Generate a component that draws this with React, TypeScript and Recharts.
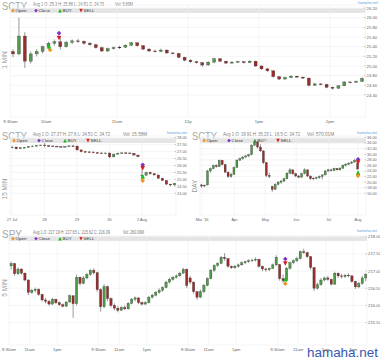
import React from "react";
import {
  ComposedChart,
  Bar,
  XAxis,
  YAxis,
  CartesianGrid,
  ReferenceDot,
} from "recharts";

type OHLC = [number, number, number, number];
type Mark = [string, number, number];

// ---- SCTY 1 min (5 min buckets) ----
const oneMinCandles: OHLC[] = [
  [25.3, 25.35, 25.18, 25.25], [25.25, 26.0, 25.22, 25.62], [25.62, 25.7, 24.96, 25.1],
  [25.1, 25.3, 25.05, 25.25], [25.25, 25.35, 25.2, 25.3], [25.3, 25.42, 25.26, 25.4],
  [25.4, 25.5, 25.35, 25.47], [25.47, 25.55, 25.42, 25.5], [25.5, 25.6, 25.34, 25.4],
  [25.4, 25.52, 25.38, 25.49], [25.49, 25.55, 25.45, 25.52], [25.52, 25.56, 25.48, 25.51],
  [25.51, 25.53, 25.44, 25.47], [25.47, 25.5, 25.42, 25.44], [25.44, 25.46, 25.36, 25.38],
  [25.38, 25.4, 25.29, 25.31], [25.31, 25.38, 25.29, 25.36], [25.36, 25.4, 25.34, 25.38],
  [25.38, 25.42, 25.35, 25.39], [25.39, 25.45, 25.37, 25.43], [25.43, 25.5, 25.41, 25.48],
  [25.48, 25.49, 25.4, 25.42], [25.42, 25.43, 25.33, 25.35], [25.35, 25.37, 25.29, 25.31],
  [25.31, 25.34, 25.28, 25.3], [25.3, 25.36, 25.29, 25.33], [25.33, 25.34, 25.25, 25.27],
  [25.27, 25.29, 25.24, 25.26], [25.26, 25.27, 25.16, 25.18], [25.18, 25.19, 25.1, 25.12],
  [25.12, 25.14, 25.06, 25.09], [25.09, 25.1, 25.05, 25.07], [25.07, 25.08, 24.98, 25.02],
  [25.02, 25.1, 25.01, 25.08], [25.08, 25.17, 25.07, 25.15], [25.15, 25.16, 25.08, 25.1],
  [25.1, 25.11, 25.04, 25.06], [25.06, 25.1, 25.05, 25.08], [25.08, 25.11, 25.06, 25.09],
  [25.09, 25.1, 25.05, 25.07], [25.07, 25.12, 25.06, 25.1], [25.1, 25.11, 24.98, 25.0],
  [25.0, 25.01, 24.92, 24.94], [24.94, 24.96, 24.88, 24.9], [24.9, 24.91, 24.76, 24.78],
  [24.78, 24.79, 24.71, 24.73], [24.73, 24.78, 24.72, 24.76], [24.76, 24.81, 24.75, 24.79],
  [24.79, 24.8, 24.75, 24.77], [24.77, 24.78, 24.73, 24.75], [24.75, 24.76, 24.58, 24.6],
  [24.6, 24.65, 24.59, 24.63], [24.63, 24.64, 24.6, 24.62], [24.62, 24.63, 24.54, 24.56],
  [24.56, 24.57, 24.51, 24.54], [24.54, 24.6, 24.53, 24.59], [24.59, 24.69, 24.58, 24.67],
  [24.67, 24.68, 24.64, 24.66], [24.66, 24.7, 24.65, 24.68], [24.68, 24.77, 24.67, 24.74],
];
const oneMinTicks = [0, 30, 90, 150, 210, 270];
const oneMinLabels = ["9:30am", "10am", "11am", "12p", "1pm", "2pm"];
const oneMinPrices = [24.4, 24.6, 24.8, 25.0, 25.2, 25.4, 25.6, 25.8, 26.0, 26.2];
const oneMinMarks: Mark[] = [
  ["open", 33.4, 25.33], ["buy", 32.5, 25.41], ["close", 41, 25.68], ["sell", 41, 25.58],
];

// ---- SCTY 15 min ----
const fifteenCandles: OHLC[] = [
  [27.3, 27.38, 27.22, 27.33], [27.33, 27.34, 27.15, 27.2], [27.2, 27.3, 27.18, 27.28],
  [27.28, 27.33, 27.24, 27.3], [27.3, 27.4, 27.28, 27.38], [27.38, 27.44, 27.34, 27.4],
  [27.4, 27.46, 27.37, 27.44], [27.44, 27.5, 27.4, 27.47],
  [27.47, 27.62, 27.3, 27.42], [27.42, 27.48, 27.36, 27.4], [27.4, 27.45, 27.34, 27.38],
  [27.38, 27.42, 27.32, 27.36], [27.36, 27.4, 27.31, 27.34], [27.34, 27.4, 27.3, 27.37],
  [27.37, 27.44, 27.34, 27.41], [27.41, 27.46, 27.36, 27.4],
  [27.4, 27.42, 27.08, 27.12], [27.12, 27.15, 26.95, 27.0], [27.0, 27.05, 26.94, 26.98],
  [26.98, 27.02, 26.93, 26.97], [26.97, 27.0, 26.88, 26.92], [26.92, 26.96, 26.86, 26.9],
  [26.9, 26.95, 26.85, 26.88], [26.88, 26.93, 26.84, 26.9],
  [26.9, 26.92, 26.52, 26.62], [26.62, 26.85, 26.6, 26.82], [26.82, 26.92, 26.8, 26.88],
  [26.88, 26.94, 26.84, 26.91], [26.91, 26.95, 26.86, 26.9], [26.9, 26.94, 26.84, 26.87],
  [26.87, 26.89, 26.72, 26.75], [26.75, 26.78, 26.6, 26.64],
  [25.3, 26.1, 24.96, 25.3], [25.3, 25.55, 25.28, 25.5], [25.5, 25.56, 25.34, 25.4],
  [25.4, 25.46, 25.28, 25.32], [25.32, 25.34, 25.05, 25.08], [25.08, 25.12, 24.88, 24.92],
  [24.92, 24.94, 24.62, 24.66], [24.66, 24.68, 24.51, 24.6], [24.6, 24.75, 24.56, 24.72],
];
const fifteenTicks = [0, 8, 16, 24, 32];
const fifteenLabels = ["27 Jul", "28", "29", "30", "2 Aug"];
const fifteenPrices = [24, 24.5, 25, 25.5, 26, 26.5, 27, 27.5, 28];
const fifteenMarks: Mark[] = [
  ["close", 32.2, 26.05], ["sell", 32.2, 25.8], ["buy", 32.2, 25.21], ["open", 32.2, 24.9],
];

// ---- SCTY daily (2 day buckets) ----
const dayCandles: OHLC[] = [
  [19.0, 19.4, 18.0, 18.6], [18.6, 19.2, 18.2, 18.9], [19.0, 24.4, 18.8, 24.0],
  [24.0, 25.2, 23.4, 24.8], [24.8, 26.3, 24.6, 26.0], [26.0, 26.4, 25.2, 25.6],
  [25.6, 28.1, 25.4, 27.8], [27.8, 28.0, 26.0, 26.3], [26.3, 26.5, 23.2, 23.6],
  [23.6, 23.8, 21.5, 22.0], [22.0, 23.4, 21.6, 22.8], [22.8, 25.6, 22.6, 25.3],
  [25.3, 28.2, 25.0, 27.9], [27.9, 28.8, 27.6, 28.4], [28.4, 29.3, 28.0, 29.0],
  [29.0, 29.8, 28.6, 29.4], [29.4, 30.2, 28.9, 29.8], [29.8, 33.6, 29.6, 33.2],
  [33.2, 35.2, 33.0, 34.4], [34.4, 34.8, 32.0, 32.6], [32.6, 33.6, 30.8, 31.2],
  [31.2, 31.4, 26.5, 27.0], [27.0, 27.2, 21.8, 22.4], [22.4, 23.4, 21.4, 22.0],
  [18.4, 18.8, 16.5, 17.4], [17.4, 19.6, 17.2, 19.2], [19.2, 20.4, 18.8, 20.0],
  [20.0, 20.8, 19.4, 20.4], [20.4, 21.6, 20.0, 21.2], [21.2, 23.6, 21.0, 23.2],
  [23.2, 25.0, 22.8, 24.4], [24.4, 24.6, 22.6, 23.0], [23.0, 23.4, 21.8, 22.2],
  [22.2, 22.6, 21.4, 21.8], [21.8, 23.4, 21.6, 23.0], [23.0, 25.0, 22.8, 24.4],
  [24.4, 24.6, 21.8, 22.2], [22.2, 22.4, 20.8, 21.2], [21.2, 21.8, 20.8, 21.4],
  [21.4, 22.0, 21.0, 21.6], [21.6, 22.4, 21.2, 22.0], [22.0, 22.8, 21.0, 22.6],
  [22.6, 24.4, 22.4, 24.0], [24.0, 24.8, 23.6, 24.4], [24.4, 24.8, 23.8, 24.2],
  [24.2, 25.2, 24.0, 24.9], [24.9, 25.0, 24.2, 24.4], [24.4, 25.4, 24.2, 25.0],
  [25.0, 26.4, 24.8, 26.0], [26.0, 26.8, 25.6, 26.4], [26.4, 27.2, 26.0, 26.8],
  [26.8, 27.6, 26.6, 27.2], [27.2, 28.4, 27.0, 27.8], [26.6, 27.0, 24.4, 24.7],
];
const dayTicks = [0, 22, 43, 64, 86, 106];
const dayLabels = ["Mar '16", "Apr", "May", "Jun", "Jul", "Aug"];
const dayPrices = [16, 18, 20, 22, 24, 26, 28, 30, 32, 34, 36];
const dayMarks: Mark[] = [
  ["close", 106, 28.2], ["sell", 106, 27.0], ["buy", 106, 23.4], ["open", 106, 22.3],
];

// ---- SPY 5 min (15 min buckets) ----
const spyCandles: OHLC[] = [
  [217.15, 217.28, 217.05, 217.22], [217.22, 217.24, 216.86, 216.92], [216.92, 217.1, 216.88, 217.06],
  [217.06, 217.08, 216.9, 216.94], [216.94, 216.96, 216.7, 216.74], [216.74, 216.76, 216.3, 216.38],
  [216.38, 216.48, 216.34, 216.44], [216.44, 216.52, 216.38, 216.47], [216.47, 216.5, 216.28, 216.32],
  [216.32, 216.34, 216.12, 216.16], [216.16, 216.22, 216.06, 216.12], [216.12, 216.16, 216.0, 216.04],
  [216.04, 216.22, 216.02, 216.18], [216.18, 216.2, 216.04, 216.08], [216.08, 216.12, 215.98, 216.02],
  [216.02, 216.06, 215.94, 215.98], [215.98, 216.12, 215.96, 216.1], [216.1, 216.32, 216.08, 216.28],
  [216.28, 216.3, 215.64, 216.05], [216.05, 216.9, 216.0, 216.82], [216.82, 216.84, 216.58, 216.64],
  [216.64, 216.86, 216.62, 216.8], [216.8, 216.95, 216.76, 216.9], [216.9, 217.06, 216.86, 217.02],
  [217.02, 217.08, 216.9, 216.95], [216.95, 216.98, 216.4, 216.46],
  [216.46, 216.5, 215.82, 215.96], [215.96, 216.62, 215.92, 216.55], [216.55, 216.58, 216.12, 216.2],
  [216.2, 216.24, 215.94, 216.0], [216.0, 216.06, 215.86, 215.92], [215.92, 215.98, 215.8, 215.86],
  [215.86, 215.98, 215.84, 215.94], [215.94, 216.0, 215.86, 215.9], [215.9, 216.1, 215.88, 216.06],
  [216.06, 216.22, 216.04, 216.18], [216.18, 216.26, 216.12, 216.22], [216.22, 216.24, 216.04, 216.08],
  [216.08, 216.12, 216.0, 216.04], [216.04, 216.12, 216.02, 216.08], [216.08, 216.28, 216.06, 216.24],
  [216.24, 216.34, 216.2, 216.3], [216.3, 216.42, 216.26, 216.38], [216.38, 216.5, 216.34, 216.44],
  [216.44, 216.56, 216.4, 216.52], [216.52, 216.72, 216.5, 216.68], [216.68, 216.8, 216.64, 216.76],
  [216.76, 216.86, 216.72, 216.82], [216.82, 216.9, 216.78, 216.86], [216.86, 216.98, 216.84, 216.94],
  [216.94, 217.1, 216.92, 217.05], [217.05, 217.08, 216.5, 216.58],
  [216.8, 216.86, 216.62, 216.68], [216.68, 216.7, 216.34, 216.4], [216.4, 216.42, 216.16, 216.24],
  [216.24, 216.46, 216.22, 216.4], [216.4, 216.62, 216.36, 216.58], [216.58, 216.82, 216.56, 216.78],
  [216.78, 217.06, 216.76, 217.02], [217.02, 217.2, 216.98, 217.16], [217.16, 217.26, 217.12, 217.22],
  [217.22, 217.44, 217.2, 217.4], [217.4, 217.52, 217.3, 217.36], [217.36, 217.38, 217.1, 217.14],
  [217.14, 217.16, 217.06, 217.1], [217.1, 217.18, 217.06, 217.14], [217.14, 217.22, 217.1, 217.18],
  [217.18, 217.28, 217.16, 217.24], [217.24, 217.3, 217.2, 217.27], [217.27, 217.34, 217.24, 217.3],
  [217.3, 217.36, 217.26, 217.32], [217.32, 217.4, 217.28, 217.34], [217.34, 217.36, 217.1, 217.14],
  [217.14, 217.16, 217.0, 217.06], [217.06, 217.1, 216.98, 217.04], [217.04, 217.1, 217.0, 217.08],
  [217.08, 217.22, 217.06, 217.18], [217.18, 217.46, 217.14, 217.4],
  [217.19, 217.2, 216.72, 216.78], [216.78, 216.9, 216.66, 216.72], [216.72, 217.12, 216.7, 217.08],
  [217.08, 217.28, 217.04, 217.24], [217.24, 217.34, 217.2, 217.3], [217.3, 217.42, 217.26, 217.36],
  [217.36, 217.6, 217.34, 217.56], [217.56, 217.65, 217.5, 217.54], [217.54, 217.56, 217.38, 217.42],
  [217.42, 217.44, 217.04, 217.1], [217.1, 217.12, 216.42, 216.5], [216.5, 216.66, 216.46, 216.6],
  [216.6, 216.8, 216.58, 216.74], [216.74, 216.84, 216.7, 216.8], [216.8, 216.86, 216.72, 216.76],
  [216.76, 216.78, 216.58, 216.62], [216.62, 216.98, 216.6, 216.94], [216.94, 216.96, 216.8, 216.86],
  [216.86, 216.92, 216.78, 216.84], [216.84, 216.92, 216.8, 216.88], [216.88, 216.94, 216.82, 216.86],
  [216.86, 216.88, 216.66, 216.7], [216.7, 216.72, 216.48, 216.54], [216.54, 216.68, 216.5, 216.64],
  [216.64, 216.86, 216.6, 216.8], [216.8, 216.94, 216.7, 216.9],
];
const spyTicks = [0, 90, 210, 390, 480, 600, 780, 870, 990, 1170, 1260, 1380, 1500];
const spyLabels = [
  "9:30am", "11am", "1pm", "9:30am", "11am", "1pm", "9:30am", "11am", "1pm",
  "9:30am", "11am", "1pm", "3pm",
];
const spyPrices = [215.5, 216, 216.5, 217, 217.5, 218];
const spyMarks: Mark[] = [
  ["close", 1204, 217.35], ["sell", 1204, 217.22], ["buy", 1204, 216.76], ["open", 1204, 216.63],
];

const GREEN = "#4f9c48";
const RED = "#9c2b2b";
const FONT = "'Liberation Sans', Arial, sans-serif";
const MARK_COLORS: Record<string, string> = {
  open: "#f5901e",
  close: "#7a32c8",
  buy: "#1fb81f",
  sell: "#d21f1f",
};

function MarkShape({ kind, cx, cy, s = 2.3 }: { kind: string; cx: number; cy: number; s?: number }) {
  const fill = MARK_COLORS[kind];
  if (kind === "buy")
    return <polygon points={`${cx},${cy - s} ${cx + s},${cy + s} ${cx - s},${cy + s}`} fill={fill} />;
  if (kind === "sell")
    return <polygon points={`${cx - s},${cy - s} ${cx + s},${cy - s} ${cx},${cy + s}`} fill={fill} />;
  return (
    <polygon points={`${cx},${cy - s} ${cx + s},${cy} ${cx},${cy + s} ${cx - s},${cy}`} fill={fill} />
  );
}

function Candle(props: any) {
  const { x, y, width, height, payload } = props;
  if (!payload || width == null) return null;
  const { o, h, l, c } = payload;
  const top = Math.min(y, y + height);
  const span = Math.abs(height);
  const k = span / (h - l);
  const yo = top + (h - o) * k;
  const yc = top + (h - c) * k;
  const cx = x + width / 2;
  const bTop = Math.min(yo, yc);
  const bH = Math.max(Math.abs(yc - yo), 0.7);
  return (
    <g>
      <line x1={cx} x2={cx} y1={top} y2={top + span} stroke="#555" strokeWidth={0.6} />
      <rect
        x={x}
        y={bTop}
        width={width}
        height={bH}
        fill={c >= o ? GREEN : RED}
        stroke="#333"
        strokeWidth={0.3}
      />
    </g>
  );
}

interface PanelProps {
  left: number;
  top: number;
  width: number;
  height: number;
  marginTop: number;
  marginLeft: number;
  yWidth: number;
  xHeight: number;
  candles: OHLC[];
  step: number;
  offset: number;
  xDomain: [number, number];
  xTicks: number[];
  xLabels: string[];
  yDomain: [number, number];
  yTicks: number[];
  marks: Mark[];
  barSize: number;
  fontSize: number;
}

function Panel(p: PanelProps) {
  const rows = p.candles.map((d, i) => ({
    x: p.offset + p.step * i,
    o: d[0],
    h: d[1],
    l: d[2],
    c: d[3],
    range: [d[2], d[1]],
  }));
  return (
    <div style={{ position: "absolute", left: p.left, top: p.top }}>
      <ComposedChart
        width={p.width}
        height={p.height}
        data={rows}
        margin={{ top: p.marginTop, left: p.marginLeft, right: 0, bottom: 0 }}
      >
        <CartesianGrid stroke="#efefef" strokeWidth={0.6} />
        <XAxis
          dataKey="x"
          type="number"
          domain={p.xDomain}
          ticks={p.xTicks}
          interval={0}
          allowDataOverflow
          height={p.xHeight}
          axisLine={false}
          tickLine={false}
          tickSize={0}
          tickMargin={0}
          tick={(t: any) => (
            <text
              x={t.x}
              y={t.y + 5.5}
              textAnchor="middle"
              fontSize={p.fontSize}
              fill="#666"
              fontFamily={FONT}
            >
              {p.xLabels[p.xTicks.indexOf(t.payload.value)]}
            </text>
          )}
        />
        <YAxis
          orientation="right"
          type="number"
          domain={p.yDomain}
          ticks={p.yTicks}
          interval={0}
          allowDataOverflow
          width={p.yWidth}
          axisLine={false}
          tickLine={false}
          tickSize={0}
          tickMargin={0}
          tick={(t: any) => (
            <g>
              <line x1={t.x - 1.5} x2={t.x} y1={t.y} y2={t.y} stroke="#999" strokeWidth={0.5} />
              <text
                x={t.x + 1}
                y={t.y}
                dy="0.35em"
                fontSize={p.fontSize}
                fill="#666"
                fontFamily={FONT}
              >
                {Number(t.payload.value).toFixed(2)}
              </text>
            </g>
          )}
        />
        <Bar
          dataKey="range"
          barSize={p.barSize}
          isAnimationActive={false}
          shape={(s: any) => <Candle {...s} />}
        />
        {p.marks.map((m, i) => (
          <ReferenceDot
            key={i}
            x={m[1]}
            y={m[2]}
            r={2}
            shape={(s: any) => <MarkShape kind={m[0]} cx={s.cx} cy={s.cy} />}
          />
        ))}
      </ComposedChart>
    </div>
  );
}

function Header({
  x,
  y,
  title,
  titleW,
  info,
  infoW,
  vol,
  volX,
  volW,
  brandX,
  barX,
  barW,
  items,
}: {
  x: number;
  y: number;
  title: string;
  titleW: number;
  info: string;
  infoW: number;
  vol: string;
  volX: number;
  volW: number;
  brandX: number;
  barX: number;
  barW: number;
  items: number[];
}) {
  const names = ["Open", "Close", "BUY", "SELL"];
  const kinds = ["open", "close", "buy", "sell"];
  return (
    <g fontFamily={FONT}>
      <text x={x + 2} y={y + 9.6} fontSize={11} fill="#a5a5a5" textLength={titleW} lengthAdjust="spacingAndGlyphs">
        {title}
      </text>
      <rect x={barX} y={y + 8.3} width={barW} height={4.6} fill="#e4e4e4" />
      <text x={x + 33} y={y + 5.6} fontSize={4.6} fill="#777" textLength={infoW} lengthAdjust="spacingAndGlyphs">
        {info}
      </text>
      <text x={volX} y={y + 5.6} fontSize={4.6} fill="#777" textLength={volW} lengthAdjust="spacingAndGlyphs">
        {vol}
      </text>
      <text x={brandX} y={y + 4.2} fontSize={4.2} fill="#5b9de0" textLength={20} lengthAdjust="spacingAndGlyphs">
        hamaha.net
      </text>
      {items.map((ix, i) => (
        <g key={i}>
          <MarkShape kind={kinds[i]} cx={ix} cy={y + 10.6} s={1.8} />
          <text x={ix + 2.6} y={y + 12.2} fontSize={4.4} fill="#333">
            {names[i]}
          </text>
        </g>
      ))}
    </g>
  );
}

export default function App() {
  return (
    <div
      style={{
        position: "absolute",
        left: 0,
        top: 0,
        width: 380,
        height: 358,
        background: "#fff",
        overflow: "hidden",
      }}
    >
      <svg width={380} height={358} style={{ position: "absolute", left: 0, top: 0 }}>
        <Header
          x={0} y={0} title="SCTY" titleW={25}
          info="Aug 1 O: 25.3 H: 25.88 L: 24.51 C: 24.73" infoW={71}
          vol="Vol: 5.89M" volX={115} volW={18} brandX={358}
          barX={10} barW={355} items={[13, 36, 60, 81]}
        />
        <Header
          x={0} y={130} title="SCTY" titleW={25}
          info="Aug 1 O: 27.37 H: 27.6 L: 24.51 C: 24.72" infoW={77}
          vol="Vol: 15.58M" volX={123} volW={24} brandX={167}
          barX={10} barW={166} items={[14, 39, 65, 88]}
        />
        <Header
          x={190} y={130} title="SCTY" titleW={25}
          info="Aug 1 O: 19.91 H: 35.23 L: 16.5 C: 24.72" infoW={77}
          vol="Vol: 570.01M" volX={307} volW={27} brandX={357}
          barX={200} barW={166} items={[204, 229, 255, 278]}
        />
        <Header
          x={0} y={228} title="SPY" titleW={20}
          info="Aug 1 O: 217.19 H: 217.65 L: 215.62 C: 216.09" infoW={77}
          vol="Vol: 260.09M" volX={123} volW={21} brandX={357}
          barX={9} barW={358} items={[13, 36, 60, 81]}
        />
        <g fontFamily={FONT} fontSize={6.5} fill="#9a9a9a" textAnchor="middle">
          <text x={5} y={60} dy="0.35em" transform="rotate(-90 5 60)">1 MIN</text>
          <text x={5} y={189} dy="0.35em" transform="rotate(-90 5 189)">15 MIN</text>
          <text x={195} y={186} dy="0.35em" transform="rotate(-90 195 186)">DAY</text>
          <text x={5} y={288} dy="0.35em" transform="rotate(-90 5 288)">5 MIN</text>
        </g>
        <text
          x={307}
          y={356.5}
          fontFamily={FONT}
          fontSize={13}
          fill="#3658b0"
          textLength={71}
          lengthAdjust="spacingAndGlyphs"
        >
          hamaha.net
        </text>
      </svg>
      <Panel
        left={0} top={0} width={380} height={125} marginTop={5} marginLeft={10.5}
        yWidth={14.5} xHeight={8} candles={oneMinCandles} step={5} offset={2.5}
        xDomain={[0, 300]} xTicks={oneMinTicks} xLabels={oneMinLabels}
        yDomain={[23.945, 26.262]} yTicks={oneMinPrices} marks={oneMinMarks}
        barSize={3} fontSize={4.3}
      />
      <Panel
        left={0} top={125} width={190} height={100} marginTop={11} marginLeft={10}
        yWidth={14} xHeight={10} candles={fifteenCandles} step={1} offset={0}
        xDomain={[-0.5, 40.4]} xTicks={fifteenTicks} xLabels={fifteenLabels}
        yDomain={[22.44, 28.122]} yTicks={fifteenPrices} marks={fifteenMarks}
        barSize={2.4} fontSize={3.9}
      />
      <Panel
        left={190} top={125} width={190} height={100} marginTop={11} marginLeft={10}
        yWidth={14} xHeight={10} candles={dayCandles} step={2} offset={0}
        xDomain={[-1.4, 111.4]} xTicks={dayTicks} xLabels={dayLabels}
        yDomain={[8.22, 36.54]} yTicks={dayPrices} marks={dayMarks}
        barSize={2} fontSize={3.9}
      />
      <Panel
        left={0} top={230} width={380} height={123} marginTop={6} marginLeft={9}
        yWidth={13} xHeight={8} candles={spyCandles} step={15} offset={7.5}
        xDomain={[0, 1560]} xTicks={spyTicks} xLabels={spyLabels}
        yDomain={[214.85, 218.02]} yTicks={spyPrices} marks={spyMarks}
        barSize={2.3} fontSize={4.3}
      />
    </div>
  );
}
